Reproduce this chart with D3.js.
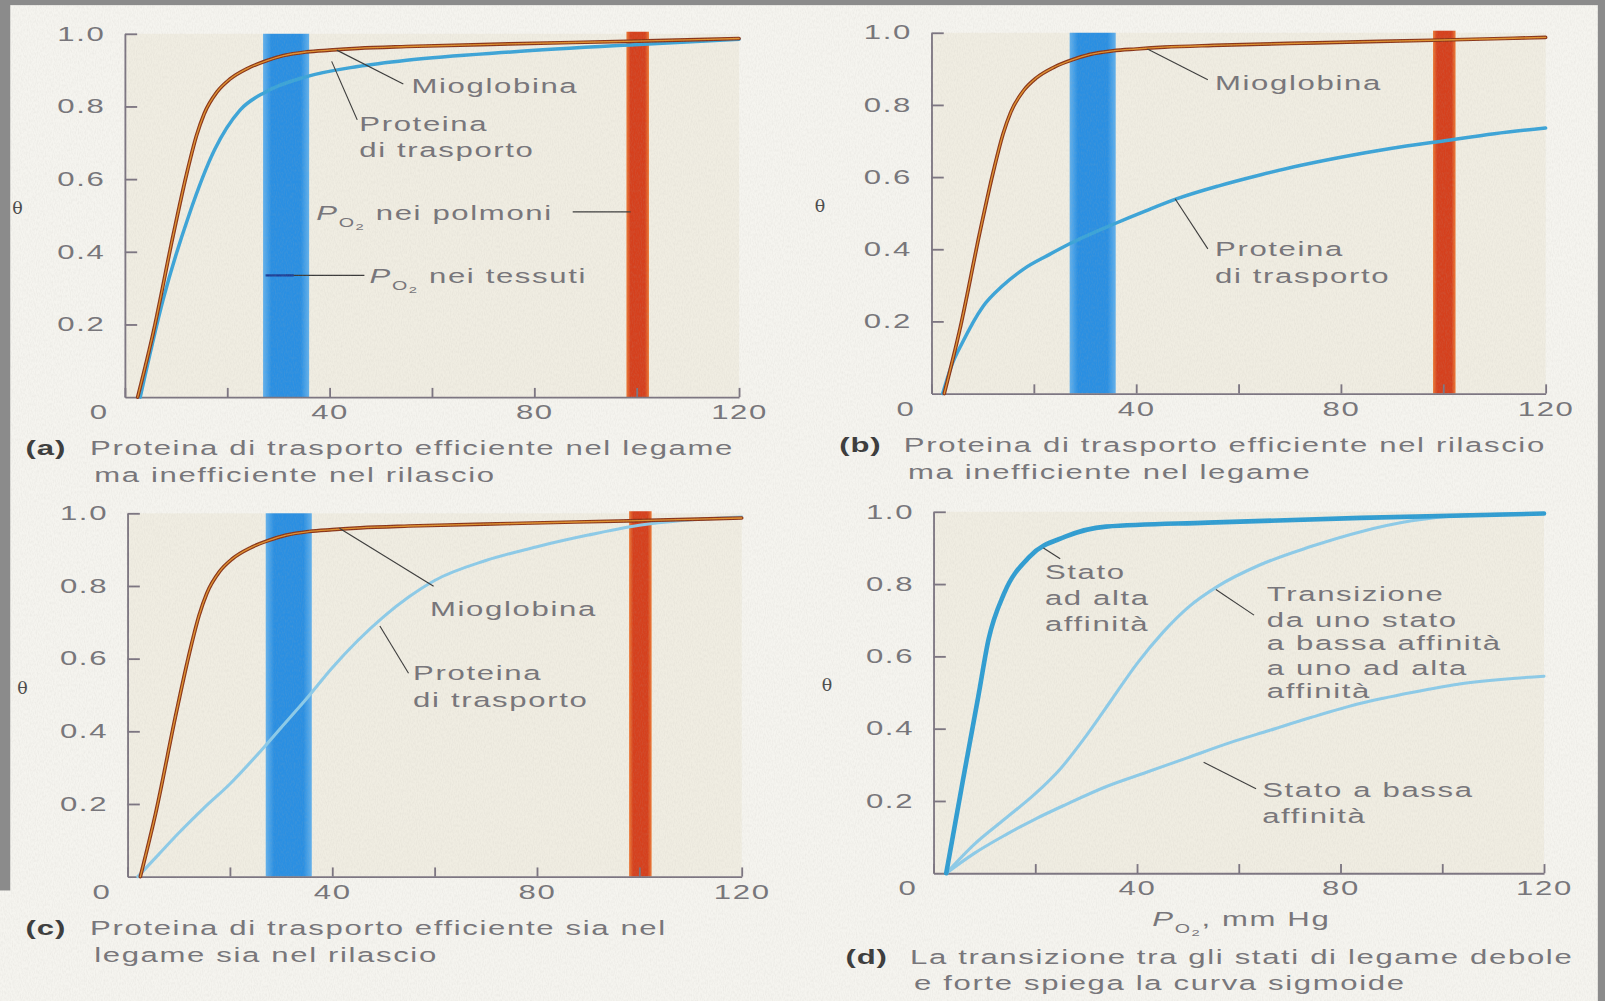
<!DOCTYPE html>
<html><head><meta charset="utf-8">
<script src="https://cdn.jsdelivr.net/npm/d3@7"></script>
<style>html,body{margin:0;padding:0;background:#f3f1ea;overflow:hidden}</style>
</head><body>
<svg id="chart" width="1605" height="1001" viewBox="0 0 1568 978" preserveAspectRatio="none"></svg>
<script>
// ---------------- data ----------------
const xTickValues = [0, 20, 40, 60, 80, 100, 120];
const xTickLabels = { 40: "40", 80: "80", 120: "120" };
const xZeroLabel = "0";
const yTickValues = [0.2, 0.4, 0.6, 0.8, 1.0];
const yTickLabels = ["0.2", "0.4", "0.6", "0.8", "1.0"];
const tissueBand = [27, 36];
const lungBand = [98, 102.4];

const po2Mio   = [2.5, 5.5, 9.5, 12, 14, 15.5, 18, 20.5, 24, 27.5, 31, 35.5, 40, 45.5, 55, 75, 100, 120];
const thetaMio = [0, 0.175, 0.45, 0.61, 0.72, 0.78, 0.84, 0.875, 0.905, 0.925, 0.94, 0.95, 0.955, 0.96, 0.965, 0.972, 0.98, 0.987];

const po2TransA   = [3, 7.5, 12.5, 17.5, 22.5, 27.5, 35.5, 45.5, 55.5, 75.5, 99.5, 120];
const thetaTransA = [0, 0.27, 0.5, 0.68, 0.79, 0.84, 0.882, 0.91, 0.928, 0.95, 0.97, 0.985];

const po2TransB   = [2.2, 4, 6, 10, 14, 18, 23, 27, 36, 42, 48, 56, 64, 72, 80, 90, 100, 110, 120];
const thetaTransB = [0, 0.08, 0.14, 0.24, 0.3, 0.345, 0.385, 0.415, 0.472, 0.507, 0.54, 0.575, 0.605, 0.632, 0.655, 0.68, 0.70, 0.72, 0.736];

const po2TransC   = [2, 6, 10, 15, 20, 25, 30, 35, 40, 45, 50, 55, 60, 70, 80, 90, 100, 120];
const thetaTransC = [0, 0.06, 0.12, 0.19, 0.255, 0.33, 0.41, 0.49, 0.575, 0.65, 0.715, 0.77, 0.815, 0.87, 0.908, 0.94, 0.967, 0.99];

const po2High   = [2.5, 5.8, 8.8, 10.8, 13.9, 18.9, 25.9, 33.9, 53.9, 84, 120];
const thetaHigh = [0, 0.259, 0.489, 0.646, 0.775, 0.876, 0.931, 0.959, 0.97, 0.983, 0.995];

const po2Transition   = [2.5, 8, 14, 20, 25, 30, 35, 40, 45, 50, 56, 64, 74, 84, 94, 104, 120];
const thetaTransition = [0, 0.08, 0.15, 0.22, 0.29, 0.38, 0.48, 0.58, 0.665, 0.735, 0.795, 0.852, 0.903, 0.945, 0.975, 0.99, 0.995];

const po2Low   = [2.5, 8, 14, 20, 26, 34, 42, 50, 58, 66, 74, 84, 94, 104, 120];
const thetaLow = [0, 0.055, 0.105, 0.15, 0.19, 0.24, 0.28, 0.32, 0.36, 0.395, 0.43, 0.47, 0.5, 0.525, 0.545];

const captionA = ["Proteina di trasporto efficiente nel legame", "ma inefficiente nel rilascio"];
const captionB = ["Proteina di trasporto efficiente nel rilascio", "ma inefficiente nel legame"];
const captionC = ["Proteina di trasporto efficiente sia nel", "legame sia nel rilascio"];
const captionD = ["La transizione tra gli stati di legame debole", "e forte spiega la curva sigmoide"];

// ---------------- style ----------------
const SX = 1.6;
const FONT = "'Liberation Sans', Arial, Helvetica, sans-serif";
const FS = 19;
const TXT = "#767479";
const AXIS = "#7b7480";

const svg = d3.select("#chart");
const defs = svg.append("defs");

// paper noise
const f = defs.append("filter").attr("id", "noise").attr("x", 0).attr("y", 0).attr("width", "100%").attr("height", "100%");
f.append("feTurbulence").attr("type", "fractalNoise").attr("baseFrequency", "0.9 0.35").attr("numOctaves", 2).attr("seed", 3);
f.append("feColorMatrix").attr("type", "matrix").attr("values", "0 0 0 0 0.45  0 0 0 0 0.43  0 0 0 0 0.40  0 0 0 -1.6 1.05");

function grad(id, edge, core) {
  const g = defs.append("linearGradient").attr("id", id).attr("x1", 0).attr("x2", 1).attr("y1", 0).attr("y2", 0);
  [[0, edge], [0.18, core], [0.82, core], [1, edge]].forEach(([o, c]) => g.append("stop").attr("offset", o).attr("stop-color", c));
}
grad("blueBand", "#63b1ec", "#2a8fe2");
grad("redBand", "#ec7a36", "#d5401d");

// page background
svg.append("rect").attr("width", 1568).attr("height", 978).attr("fill", "#f5f4ef");

function stext(g, x, y, str, opt = {}) {
  const t = g.append("text")
    .attr("transform", `translate(${x},${y}) scale(${opt.sx || SX},1)`)
    .attr("font-family", FONT).attr("font-size", opt.fs || FS)
    .attr("letter-spacing", opt.ls != null ? opt.ls : 1)
    .attr("fill", opt.fill || TXT)
    .attr("font-weight", opt.bold ? "bold" : "normal")
    .attr("text-anchor", opt.anchor || "start")
    .attr("dy", "0.35em");
  if (str != null) t.text(str);
  return t;
}
function po2Text(g, x, y, rest) {
  const t = stext(g, x, y, null);
  t.append("tspan").attr("font-style", "italic").text("P");
  t.append("tspan").attr("font-size", 12).attr("dy", 7).text("O");
  t.append("tspan").attr("font-size", 9).attr("dy", 3).text("2");
  t.append("tspan").attr("dy", -10).text(rest);
  return t;
}

const line = (x, y) => d3.line().x(d => x(d[0])).y(d => y(d[1])).curve(d3.curveMonotoneX);
const zip = (a, b) => a.map((v, i) => [v, b[i]]);

function panel(p) {
  const g = svg.append("g");
  const x = d3.scaleLinear().domain([0, 120]).range([p.x0, p.x1]);
  const y = d3.scaleLinear().domain([0, 1]).range([p.yBot, p.yTop]);

  g.append("rect").attr("x", x(0)).attr("y", y(1)).attr("width", x(120) - x(0)).attr("height", y(0) - y(1)).attr("fill", "#f0ede2");

  if (p.bands) {
    g.append("rect").attr("x", x(tissueBand[0])).attr("width", x(tissueBand[1]) - x(tissueBand[0]))
      .attr("y", y(1)).attr("height", y(0) - y(1)).attr("fill", "url(#blueBand)");
    g.append("rect").attr("x", x(lungBand[0])).attr("width", x(lungBand[1]) - x(lungBand[0]))
      .attr("y", y(1) - 2).attr("height", y(0) - y(1) + 2).attr("fill", "url(#redBand)");
  }

  // axes
  const yAxis = d3.axisLeft(y).tickValues(yTickValues).tickFormat((d, i) => yTickLabels[i])
    .tickSizeInner(-12).tickSizeOuter(0).tickPadding(19);
  const xAxis = d3.axisBottom(x).tickValues(xTickValues).tickFormat(d => xTickLabels[d] || "")
    .tickSizeInner(-9).tickSizeOuter(0).tickPadding(8);
  const ga = g.append("g").attr("transform", `translate(${x(0)},0)`).call(yAxis);
  const gb = g.append("g").attr("transform", `translate(0,${y(0)})`).call(xAxis);
  [ga, gb].forEach(a => {
    a.attr("font-family", FONT).attr("font-size", FS);
    a.selectAll("path,line").attr("stroke", AXIS).attr("stroke-width", 1.8);
    a.selectAll(".tick text").attr("fill", TXT).attr("letter-spacing", 1).each(function () {
      const t = d3.select(this);
      const xx = +t.attr("x") || 0, yy = +t.attr("y") || 0;
      t.attr("x", 0).attr("y", 0).attr("transform", `translate(${xx},${yy}) scale(${SX},1)`);
    });
  });
  gb.append("text").attr("transform", `translate(${x(0) - 25},8) scale(${SX},1)`)
    .attr("dy", "0.71em").attr("text-anchor", "middle").attr("fill", TXT).attr("letter-spacing", 1).text(xZeroLabel);

  // theta label
  g.append("text").attr("x", p.thetaX).attr("y", y(0.52)).attr("font-family", "'DejaVu Serif', serif")
    .attr("font-size", 17).attr("fill", "#4a4a4a").attr("text-anchor", "middle").attr("dy", "0.35em").text("θ");

  // curves
  p.curves.forEach(c => {
    const d = line(x, y)(zip(c.px, c.py));
    if (c.outline) g.append("path").attr("d", d).attr("fill", "none").attr("stroke", c.outline).attr("stroke-width", c.ow).attr("stroke-linecap", "round");
    g.append("path").attr("d", d).attr("fill", "none").attr("stroke", c.color).attr("stroke-width", c.w).attr("stroke-linecap", "round");
  });

  // leaders
  (p.leaders || []).forEach(l => {
    g.append("line").attr("x1", x(l[0])).attr("y1", y(l[1])).attr("x2", x(l[2])).attr("y2", y(l[3]))
      .attr("stroke", l[4] || "#3a3a3a").attr("stroke-width", l[5] || 1.1);
  });
  (p.texts || []).forEach(t => stext(g, x(t[1]), y(t[2]), t[0]));
  if (p.extra) p.extra(g, x, y);

  // caption
  stext(g, p.cap[0], p.cap[1], `(${p.id})`, { bold: true, fill: "#3a3a3a", ls: 0.5 });
  stext(g, p.cap[0] + 63, p.cap[1], p.caption[0]);
  stext(g, p.cap[0] + 67, p.cap[1] + 26, p.caption[1]);
}

const mio = { px: po2Mio, py: thetaMio, color: "#e0912e", w: 1.3, outline: "#8a3417", ow: 3.6 };

panel({
  id: "a", x0: 122, x1: 722, yTop: 33, yBot: 388, thetaX: 17, bands: true, cap: [25, 438], caption: captionA,
  curves: [{ px: po2TransA, py: thetaTransA, color: "#3ba4d8", w: 3.4 }, mio],
  leaders: [[41.4, 0.955, 54.4, 0.862], [40.4, 0.924, 45.4, 0.763], [87.5, 0.51, 98.8, 0.51], [31.4, 0.335, 46.8, 0.335], [27.5, 0.335, 33, 0.335, "#1d3f96", 2.2]],
  texts: [["Mioglobina", 56, 0.856], ["Proteina", 45.8, 0.752], ["di trasporto", 45.8, 0.68]],
  extra: (g, x, y) => { po2Text(g, x(37.4), y(0.507), " nei polmoni"); po2Text(g, x(47.8), y(0.333), " nei tessuti"); }
});
panel({
  id: "b", x0: 910, x1: 1510, yTop: 32, yBot: 384.5, thetaX: 801, bands: true, cap: [820, 435], caption: captionB,
  curves: [{ px: po2TransB, py: thetaTransB, color: "#3ba4d8", w: 3.4 }, mio],
  leaders: [[42.2, 0.955, 54, 0.87], [47.6, 0.54, 54, 0.401]],
  texts: [["Mioglobina", 55.4, 0.861], ["Proteina", 55.4, 0.399], ["di trasporto", 55.4, 0.325]]
});
panel({
  id: "c", x0: 124.6, x1: 724.6, yTop: 501.5, yBot: 856.5, thetaX: 22, bands: true, cap: [25, 907], caption: captionC,
  curves: [{ px: po2TransC, py: thetaTransC, color: "#8ccbe9", w: 3 }, mio],
  leaders: [[41.4, 0.959, 59.8, 0.799], [49.3, 0.69, 54.9, 0.56]],
  texts: [["Mioglobina", 59.1, 0.737], ["Proteina", 55.8, 0.56], ["di trasporto", 55.8, 0.486]]
});
panel({
  id: "d", x0: 912, x1: 1508.4, yTop: 500, yBot: 853.2, thetaX: 808, bands: false, cap: [826, 935], caption: captionD,
  curves: [
    { px: po2Low, py: thetaLow, color: "#8ccbe9", w: 3 },
    { px: po2Transition, py: thetaTransition, color: "#8ccbe9", w: 3 },
    { px: po2High, py: thetaHigh, color: "#2f9dd2", w: 4.5 }
  ],
  leaders: [[21.6, 0.90, 24.9, 0.87], [55.5, 0.785, 63, 0.714], [53.1, 0.307, 63.4, 0.234]],
  texts: [["Stato", 21.9, 0.833], ["ad alta", 21.9, 0.762], ["affinità", 21.9, 0.69],
          ["Transizione", 65.5, 0.771], ["da uno stato", 65.5, 0.701], ["a bassa affinità", 65.5, 0.637], ["a uno ad alta", 65.5, 0.567], ["affinità", 65.5, 0.503],
          ["Stato a bassa", 64.6, 0.231], ["affinità", 64.6, 0.157]],
  extra: (g, x, y) => { po2Text(g, x(43), y(0) + 45, ", mm Hg"); }
});

// paper texture
svg.append("rect").attr("width", 1568).attr("height", 978).attr("filter", "url(#noise)").attr("opacity", 0.15).attr("pointer-events", "none");

// scanner frame
svg.append("rect").attr("x", 0).attr("y", 0).attr("width", 1568).attr("height", 5).attr("fill", "#8b8b8b");
svg.append("rect").attr("x", 0).attr("y", 0).attr("width", 10).attr("height", 870).attr("fill", "#8b8b8b");
svg.append("rect").attr("x", 1561).attr("y", 0).attr("width", 7).attr("height", 978).attr("fill", "#8b8b8b");
</script></body></html>
